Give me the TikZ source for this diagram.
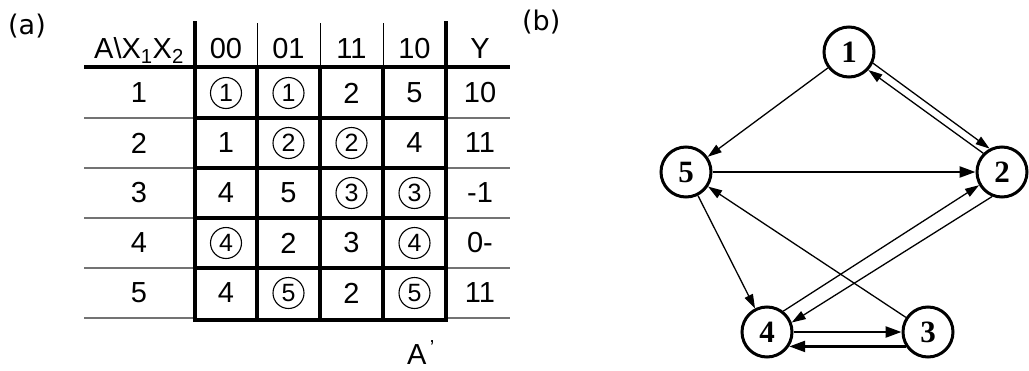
\documentclass[tikz,border=0pt]{standalone}
\usepackage{fontspec}
\setmainfont{Liberation Sans}
\newfontfamily\nodefont{Liberation Serif}
\newfontfamily\labfont{DejaVu Sans}
\usetikzlibrary{arrows.meta}
\tikzset{
  cell/.style={inner sep=0pt, font=\fontsize{29}{31}\selectfont},
  cnum/.style={circle, draw, line width=1.1pt, minimum size=31pt, inner sep=0pt,
    font=\fontsize{25}{27}\selectfont},
  hdr/.style={inner sep=0pt, anchor=base, font=\fontsize{29}{31}\selectfont},
  panel/.style={inner sep=0pt, anchor=base west, font=\labfont\fontsize{27}{29}\selectfont},
  boldline/.style={line width=3.8pt, line cap=rect},
  hairline/.style={line width=1pt},
  grayline/.style={draw=black!55, line width=1.4pt},
  state/.style={circle, draw, line width=3pt, minimum size=50pt, inner sep=0pt,
    font=\nodefont\bfseries\fontsize{31}{33}\selectfont},
  edge/.style={line width=1.3pt, -{Triangle[length=14pt,width=9pt]}},
  bedge/.style={line width=2.4pt, -{Triangle[length=16pt,width=11pt]}}
}
\begin{document}
\begin{tikzpicture}[x=1pt,y=-1pt]
\useasboundingbox (0,0) rectangle (1029,370);

% ---------- (a) table ----------
\node[panel] (la) at (8,34) {(a)};

% gray outside row lines
\foreach \yy in {118,168,218,268,318}{
  \draw[grayline] (84,\yy) -- (195,\yy);
  \draw[grayline] (446,\yy) -- (510,\yy);
}
% header rule
\draw[line width=3.8pt] (84,67) -- (510,67);
% thin header verticals
\foreach \xx in {257,320,383}{
  \draw[hairline] (\xx,23) -- (\xx,67);
  \draw[boldline] (\xx,67) -- (\xx,320);
}
% inner row rules
\foreach \yy in {118,168,218,268,320}{
  \draw[boldline] (195,\yy) -- (446,\yy);
}
% outer verticals
\draw[boldline] (195,23) -- (195,320);
\draw[boldline] (446,23) -- (446,320);

% header
\node[hdr] (h0) at (139,58) {A\textbackslash X\textsubscript{1}X\textsubscript{2}};
\node[hdr] (h1) at (226,58) {00};
\node[hdr] (h2) at (288.5,58) {01};
\node[hdr] (h3) at (351.5,58) {11};
\node[hdr] (h4) at (414.5,58) {10};
\node[hdr] (h5) at (480,58) {Y};

% row 1
\node[cell] (a10) at (139,93) {1};
\node[cnum] (a11) at (226,93) {1};
\node[cnum] (a12) at (288.5,93) {1};
\node[cell] (a13) at (351.5,93) {2};
\node[cell] (a14) at (414.5,93) {5};
\node[cell] (a15) at (480,93) {10};
% row 2
\node[cell] (a20) at (139,143) {2};
\node[cell] (a21) at (226,143) {1};
\node[cnum] (a22) at (288.5,143) {2};
\node[cnum] (a23) at (351.5,143) {2};
\node[cell] (a24) at (414.5,143) {4};
\node[cell] (a25) at (480,143) {11};
% row 3
\node[cell] (a30) at (139,193) {3};
\node[cell] (a31) at (226,193) {4};
\node[cell] (a32) at (288.5,193) {5};
\node[cnum] (a33) at (351.5,193) {3};
\node[cnum] (a34) at (414.5,193) {3};
\node[cell] (a35) at (480,193) {-1};
% row 4
\node[cell] (a40) at (139,243) {4};
\node[cnum] (a41) at (226,243) {4};
\node[cell] (a42) at (288.5,243) {2};
\node[cell] (a43) at (351.5,243) {3};
\node[cnum] (a44) at (414.5,243) {4};
\node[cell] (a45) at (480,243) {0-};
% row 5
\node[cell] (a50) at (139,293) {5};
\node[cell] (a51) at (226,293) {4};
\node[cnum] (a52) at (288.5,293) {5};
\node[cell] (a53) at (351.5,293) {2};
\node[cnum] (a54) at (414.5,293) {5};
\node[cell] (a55) at (480,293) {11};

\node[inner sep=0pt, anchor=base west, font=\fontsize{29}{31}\selectfont] (ap) at (407,364) {A\textsuperscript{\,'}};

% ---------- (b) graph ----------
\node[panel] (lb) at (522,30) {(b)};

\node[state] (n1) at (849,52) {1};
\node[state] (n5) at (686,172) {5};
\node[state] (n2) at (1002,172) {2};
\node[state] (n4) at (767,332) {4};
\node[state] (n3) at (928,332) {3};

\draw[edge] (n1.217) -- (n5.35);
\draw[edge] (n1.-25) -- (n2.118);
\draw[edge] (n2.135) -- (n1.-43);
\draw[bedge] (n5) -- (n2);
\draw[edge] (n5) -- (n4);
\draw[edge] (n3) -- (n5);
\draw[edge] (n4.52) -- (n2.210);
\draw[edge] (n2.248) -- (n4.21);
\draw[bedge] (n4) -- (n3);
\draw[bedge] (n3.-147) -- (n4.-33);
\end{tikzpicture}
\end{document}
